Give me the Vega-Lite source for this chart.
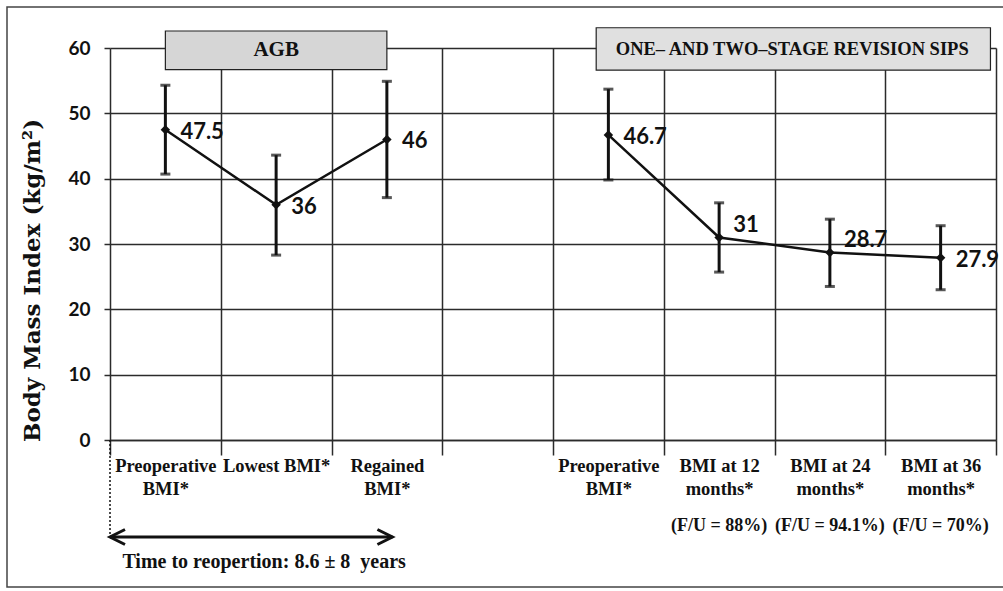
{
  "$schema": "https://vega.github.io/schema/vega-lite/v6.json",
  "width": 886,
  "height": 392,
  "autosize": {"type": "none"},
  "padding": {"left": 110, "top": 48, "right": 7, "bottom": 151},
  "background": "white",
  "config": {"view": {"stroke": null}},
  "data": {"values": [{}]},
  "datasets": {
    "pts": [
      {"cat": "A1", "grp": "AGB", "bmi": 47.5, "lo": 40.7, "hi": 54.3, "lab": "47.5"},
      {"cat": "A2", "grp": "AGB", "bmi": 36, "lo": 28.3, "hi": 43.6, "lab": "36"},
      {"cat": "A3", "grp": "AGB", "bmi": 46, "lo": 37.1, "hi": 54.9, "lab": "46"},
      {"cat": "S1", "grp": "SIPS", "bmi": 46.7, "lo": 39.8, "hi": 53.7, "lab": "46.7"},
      {"cat": "S2", "grp": "SIPS", "bmi": 31, "lo": 25.7, "hi": 36.3, "lab": "31"},
      {"cat": "S3", "grp": "SIPS", "bmi": 28.7, "lo": 23.5, "hi": 33.8, "lab": "28.7"},
      {"cat": "S4", "grp": "SIPS", "bmi": 27.9, "lo": 23.0, "hi": 32.8, "lab": "27.9"}
    ],
    "fu": [
      {"cat": "S2", "txt": "(F/U = 88%)"},
      {"cat": "S3", "txt": "(F/U = 94.1%)"},
      {"cat": "S4", "txt": "(F/U = 70%)"}
    ]
  },
  "layer": [
    {
      "data": {"name": "pts"},
      "mark": {"type": "line", "color": "#111", "strokeWidth": 2.5},
      "encoding": {
        "x": {
          "field": "cat",
          "type": "nominal",
          "scale": {"domain": ["A1", "A2", "A3", "G", "S1", "S2", "S3", "S4"], "paddingInner": 0, "paddingOuter": 0},
          "axis": {
            "title": null,
            "tickBand": "extent",
            "grid": true,
            "gridColor": "#2b2b2b",
            "gridWidth": 1.5,
            "gridOpacity": 1,
            "ticks": true,
            "tickSize": 15,
            "tickColor": "#2b2b2b",
            "tickWidth": 1.5,
            "domain": true,
            "domainColor": "#2b2b2b",
            "domainWidth": 1.5,
            "labelAngle": 0,
            "labelBaseline": "top",
            "labelPadding": 1,
            "labelFont": "Liberation Serif",
            "labelFontWeight": "bold",
            "labelFontSize": 18.5,
            "labelLineHeight": 23,
            "labelColor": "#111",
            "labelOverlap": false,
            "labelBound": false,
            "labelExpr": "[['Preoperative','BMI*'], 'Lowest BMI*', ['Regained','BMI*'], '', ['Preoperative','BMI*'], ['BMI at 12','months*'], ['BMI at 24','months*'], ['BMI at 36','months*']][indexof(['A1','A2','A3','G','S1','S2','S3','S4'], datum.value)]"
          }
        },
        "y": {
          "field": "bmi",
          "type": "quantitative",
          "scale": {"domain": [0, 60], "nice": false, "zero": true},
          "axis": {
            "title": "Body Mass Index (kg/m²)",
            "titleFont": "DejaVu Serif",
            "titleFontWeight": "bold",
            "titleFontSize": 23,
            "titleColor": "#111",
            "titleAngle": 270,
            "titleX": -78,
            "titleY": 232,
            "titleAlign": "center",
            "titleBaseline": "middle",
            "values": [0, 10, 20, 30, 40, 50, 60],
            "grid": true,
            "gridColor": "#2b2b2b",
            "gridWidth": 1.5,
            "gridOpacity": 1,
            "domain": false,
            "tickSize": 6,
            "tickColor": "#2b2b2b",
            "tickWidth": 1.5,
            "labelPadding": 14,
            "labelFont": "Lato",
            "labelFontWeight": "bold",
            "labelFontSize": 19,
            "labelColor": "#111"
          }
        },
        "detail": {"field": "grp"}
      }
    },
    {
      "data": {"name": "pts"},
      "mark": {"type": "rule", "color": "#111", "strokeWidth": 3},
      "encoding": {
        "x": {"field": "cat", "type": "nominal"},
        "y": {"field": "lo", "type": "quantitative"},
        "y2": {"field": "hi"}
      }
    },
    {
      "data": {"name": "pts"},
      "transform": [{"fold": ["lo", "hi"], "as": ["k", "v"]}],
      "mark": {"type": "tick", "color": "#111", "size": 10, "thickness": 3, "orient": "horizontal"},
      "encoding": {
        "x": {"field": "cat", "type": "nominal"},
        "y": {"field": "v", "type": "quantitative"}
      }
    },
    {
      "data": {"name": "pts"},
      "mark": {"type": "point", "shape": "diamond", "filled": true, "color": "#111", "size": 90, "opacity": 1},
      "encoding": {
        "x": {"field": "cat", "type": "nominal"},
        "y": {"field": "bmi", "type": "quantitative"}
      }
    },
    {
      "data": {"name": "pts"},
      "transform": [{"filter": "datum.cat != 'S2' && datum.cat != 'S3'"}],
      "mark": {"type": "text", "align": "left", "baseline": "middle", "dx": 15, "dy": 2, "font": "Lato", "fontWeight": "bold", "fontSize": 22, "color": "#111"},
      "encoding": {
        "x": {"field": "cat", "type": "nominal"},
        "y": {"field": "bmi", "type": "quantitative"},
        "text": {"field": "lab"}
      }
    },
    {
      "data": {"name": "pts"},
      "transform": [{"filter": "datum.cat == 'S2' || datum.cat == 'S3'"}],
      "mark": {"type": "text", "align": "left", "baseline": "middle", "dx": 14, "dy": -12, "font": "Lato", "fontWeight": "bold", "fontSize": 22, "color": "#111"},
      "encoding": {
        "x": {"field": "cat", "type": "nominal"},
        "y": {"field": "bmi", "type": "quantitative"},
        "text": {"field": "lab"}
      }
    },
    {
      "mark": {"type": "rect", "fill": "#d6d6d6", "stroke": "#222", "strokeWidth": 1.2},
      "encoding": {
        "x": {"datum": "A1", "bandPosition": 0.5},
        "x2": {"datum": "A3", "bandPosition": 0.5},
        "y": {"datum": 62.6},
        "y2": {"datum": 56.7}
      }
    },
    {
      "mark": {"type": "rect", "fill": "#e0e0e0", "stroke": "#222", "strokeWidth": 1.2},
      "encoding": {
        "x": {"datum": "S1", "bandPosition": 0.39},
        "x2": {"datum": "S4", "bandPosition": 0.95},
        "y": {"datum": 63.1},
        "y2": {"datum": 56.6}
      }
    },
    {
      "mark": {"type": "text", "text": "AGB", "font": "Liberation Serif", "fontWeight": "bold", "fontSize": 21, "color": "#111", "align": "center", "baseline": "middle"},
      "encoding": {
        "x": {"datum": "A2"},
        "y": {"datum": 59.7}
      }
    },
    {
      "mark": {"type": "text", "text": "ONE– AND TWO–STAGE REVISION SIPS", "font": "Liberation Serif", "fontWeight": "bold", "fontSize": 18.5, "color": "#111", "align": "center", "baseline": "middle"},
      "encoding": {
        "x": {"datum": "S3", "bandPosition": 0.16},
        "y": {"datum": 59.9}
      }
    },
    {
      "data": {"name": "fu"},
      "mark": {"type": "text", "font": "Liberation Serif", "fontWeight": "bold", "fontSize": 18, "color": "#111", "align": "center", "baseline": "middle", "dy": 86},
      "encoding": {
        "x": {"field": "cat", "type": "nominal"},
        "y": {"datum": 0},
        "text": {"field": "txt"}
      }
    },
    {
      "mark": {"type": "rule", "color": "#111", "strokeWidth": 1.5, "strokeDash": [2, 2], "y2Offset": 97},
      "encoding": {
        "x": {"datum": "A1", "bandPosition": 0},
        "y": {"datum": 0},
        "y2": {"datum": 0}
      }
    },
    {
      "mark": {"type": "rule", "color": "#111", "strokeWidth": 3, "yOffset": 97},
      "encoding": {
        "x": {"datum": "A1", "bandPosition": 0},
        "x2": {"datum": "A3", "bandPosition": 0.55},
        "y": {"datum": 0}
      }
    },
    {
      "mark": {"type": "point", "shape": "M1,-0.5L0,0L1,0.5", "filled": false, "stroke": "#111", "strokeWidth": 3, "size": 900, "opacity": 1, "yOffset": 97},
      "encoding": {
        "x": {"datum": "A1", "bandPosition": 0},
        "y": {"datum": 0}
      }
    },
    {
      "mark": {"type": "point", "shape": "M-1,-0.5L0,0L-1,0.5", "filled": false, "stroke": "#111", "strokeWidth": 3, "size": 900, "opacity": 1, "yOffset": 97},
      "encoding": {
        "x": {"datum": "A3", "bandPosition": 0.55},
        "y": {"datum": 0}
      }
    },
    {
      "mark": {"type": "text", "text": "Time to reopertion: 8.6 ± 8\u00a0\u00a0years", "font": "Liberation Serif", "fontWeight": "bold", "fontSize": 20, "color": "#111", "align": "center", "baseline": "middle", "dx": -12, "dy": 122},
      "encoding": {
        "x": {"datum": "A2"},
        "y": {"datum": 0}
      }
    },
    {
      "mark": {"type": "rect", "fill": null, "stroke": "#444", "strokeWidth": 1.5, "xOffset": -103, "yOffset": -41, "y2Offset": 147},
      "encoding": {
        "x": {"datum": "A1", "bandPosition": 0},
        "x2": {"datum": "S4", "bandPosition": 1.3},
        "y": {"datum": 60},
        "y2": {"datum": 0}
      }
    }
  ]
}
